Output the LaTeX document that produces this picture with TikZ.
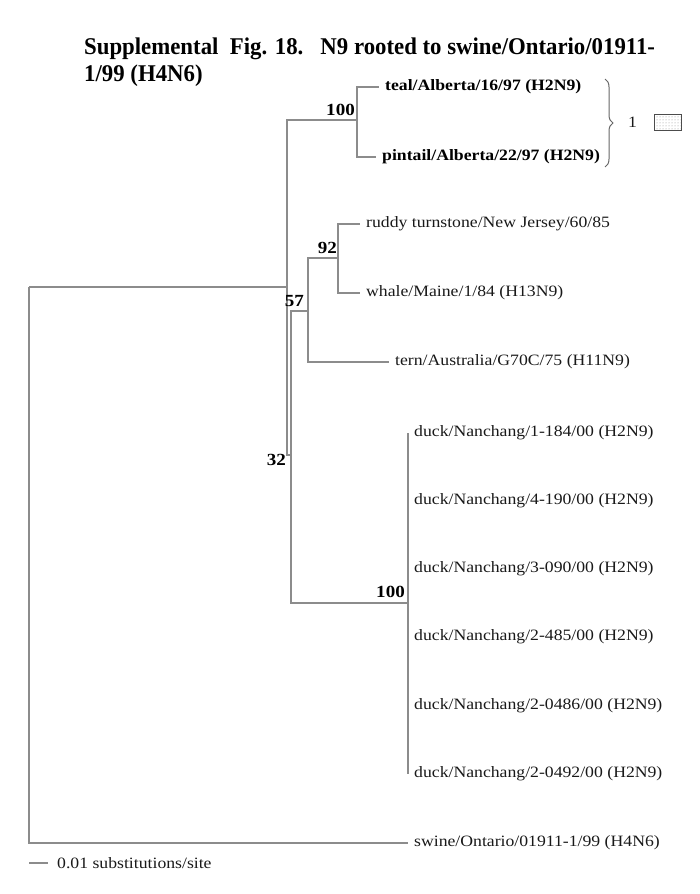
\documentclass[tikz,border=0pt]{standalone}
\usepackage{fontspec}
\setmainfont[FakeStretch=1.12]{Liberation Serif}
\newfontfamily\headfont[FakeStretch=0.95]{Liberation Serif}
\usetikzlibrary{decorations.pathreplacing,patterns}

\begin{document}
\begin{tikzpicture}[x=1pt,y=-1pt,
    branch/.style={draw=black!45,line width=1.1pt},
    leaf/.style={anchor=west,inner xsep=6pt,inner ysep=0pt,text=black!90,font=\fontsize{15.8}{18}\selectfont},
    boldleaf/.style={leaf,text=black,font=\bfseries\fontsize{15.8}{18}\selectfont},
    boot/.style={inner sep=0pt,text=black,font=\bfseries\fontsize{17}{19}\selectfont},
    heading/.style={anchor=base west,inner sep=0pt,font=\headfont\bfseries\fontsize{24}{28}\selectfont}]
    \useasboundingbox (0,0) rectangle (700,894);

    % Title
    \node[heading] (title1) at (84,54) {Supplemental\ \ Fig. 18.\ \ \ N9 rooted to swine/Ontario/01911-};
    \node[heading] (title2) at (84,81) {1/99 (H4N6)};

    % Internal nodes
    \coordinate (root) at (29,287);
    \coordinate (n0) at (287,287);
    \coordinate (n100a) at (357,120);
    \coordinate (n32) at (291,455);
    \coordinate (n57) at (308,311);
    \coordinate (n92) at (338,258);
    \coordinate (n100b) at (408,603);

    % Leaves
    \node[boldleaf] (teal) at (379,87) {teal/Alberta/16/97 (H2N9)};
    \node[boldleaf] (pintail) at (376,157) {pintail/Alberta/22/97 (H2N9)};
    \node[leaf] (ruddy) at (360,224) {ruddy turnstone/New Jersey/60/85};
    \node[leaf] (whale) at (360,293) {whale/Maine/1/84 (H13N9)};
    \node[leaf] (tern) at (389,362) {tern/Australia/G70C/75 (H11N9)};
    \node[leaf] (duckA) at (408,432.5) {duck/Nanchang/1-184/00 (H2N9)};
    \node[leaf] (duckB) at (408,500.7) {duck/Nanchang/4-190/00 (H2N9)};
    \node[leaf] (duckC) at (408,568.9) {duck/Nanchang/3-090/00 (H2N9)};
    \node[leaf] (duckD) at (408,637.1) {duck/Nanchang/2-485/00 (H2N9)};
    \node[leaf] (duckE) at (408,705.3) {duck/Nanchang/2-0486/00 (H2N9)};
    \node[leaf] (duckF) at (408,773.5) {duck/Nanchang/2-0492/00 (H2N9)};
    \node[leaf] (swine) at (408,843) {swine/Ontario/01911-1/99 (H4N6)};

    % Branches
    \draw[branch] (root) -- (n0);
    \draw[branch] (root) |- (swine.west);
    \draw[branch] (n0) |- (n100a);
    \draw[branch] (n0) |- (n32);
    \draw[branch] (n100a) |- (teal.west);
    \draw[branch] (n100a) |- (pintail.west);
    \draw[branch] (n32) |- (n57);
    \draw[branch] (n32) |- (n100b);
    \draw[branch] (n57) |- (n92);
    \draw[branch] (n57) |- (tern.west);
    \draw[branch] (n92) |- (ruddy.west);
    \draw[branch] (n92) |- (whale.west);
    \foreach \d in {duckA,duckB,duckC,duckD,duckE,duckF}
        \draw[branch] (n100b) |- (\d.west);

    % Bootstrap values
    \node[boot,anchor=south east] (b100a) at ([shift={(-2,-4)}]n100a) {100};
    \node[boot,anchor=south east] (b92) at ([shift={(-1,-4)}]n92) {92};
    \node[boot,anchor=south east] (b57) at ([shift={(-4,-4)}]n57) {57};
    \node[boot,anchor=north east] (b32) at ([shift={(-5,-1)}]n32) {32};
    \node[boot,anchor=south east] (b100b) at ([shift={(-3,-5)}]n100b) {100};

    % Cluster brace
    \coordinate (braceTop) at (605,79);
    \coordinate (braceBot) at (605,167);
    \draw[black!60,line width=1pt,decorate,decoration={brace,amplitude=8pt}] (braceTop) -- (braceBot);
    \node[leaf,inner xsep=0pt] (cluster) at (628,122) {1};
    \node[draw=black!70,line width=0.9pt,pattern=dots,pattern color=black!45,minimum width=27pt,minimum height=16pt,inner sep=0pt] (clusterBox) at (668,122) {};

    % Scale bar
    \coordinate (barL) at (29,863);
    \coordinate (barR) at (48,863);
    \draw[branch] (barL) -- (barR);
    \node[leaf,inner xsep=9pt] (barText) at (barR) {0.01 substitutions/site};
\end{tikzpicture}
\end{document}
